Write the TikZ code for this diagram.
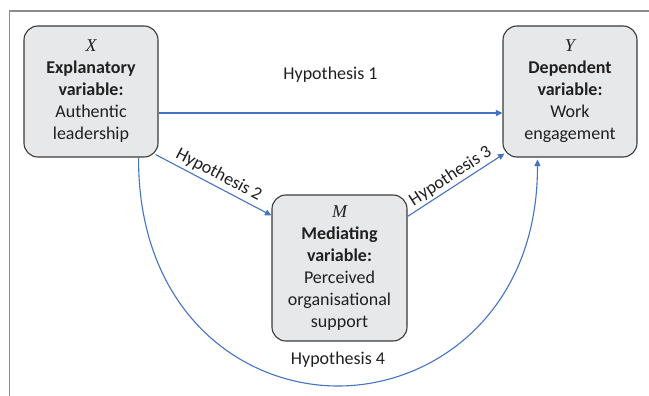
\documentclass[tikz,border=0pt]{standalone}
\usepackage{fontspec}
\setmainfont{Carlito}
\newfontfamily\varfont{Liberation Serif}
\usetikzlibrary{arrows.meta}
\definecolor{boxfill}{HTML}{E7E8EA}
\definecolor{boxline}{HTML}{3A3A3A}
\definecolor{linkc}{HTML}{4472C4}
\definecolor{txt}{HTML}{202020}
\definecolor{framec}{HTML}{8C8C8C}
\begin{document}
\begin{tikzpicture}[x=1pt,y=-1pt,
  varbox/.style={draw=boxline, fill=boxfill, line width=1.1pt, rounded corners=14pt,
    minimum width=134pt, align=center, text=txt, inner sep=0pt,
    font=\fontsize{18}{22}\selectfont},
  link/.style={draw=linkc, line width=1.1pt, -{Triangle[length=6.5pt,width=6pt]}},
  hyp/.style={text=txt, font=\fontsize{18}{22}\selectfont}
]
\useasboundingbox (0,0) rectangle (649,396);
\draw[draw=framec, line width=1.4pt] (649,11) -- (9.5,11) -- (9.5,396);

\node[varbox, minimum height=131pt] (X) at (91,91.5)
  {{\varfont\itshape X}\\ \textbf{Explanatory}\\ \textbf{variable:}\\ Authentic\\ leadership};
\node[varbox, minimum height=131pt] (Y) at (570,91.5)
  {{\varfont\itshape Y}\\ \textbf{Dependent}\\ \textbf{variable:}\\ Work\\ engagement};
\node[varbox, minimum width=135pt, minimum height=146pt] (M) at (339.5,268)
  {{\varfont\itshape M}\\ \textbf{Mediating}\\ \textbf{variable:}\\ Perceived\\ organisational\\ support};

\coordinate (bot) at (338,386);

\draw[link] ([yshift=-21.5pt]X.east) -- node[hyp, above=27pt] (h1) {Hypothesis 1} ([yshift=-21.5pt]Y.west);
\draw[link] ([shift={(-3pt,3pt)}]X.south east) -- node[hyp, sloped, above] (h2) {Hypothesis 2} ([yshift=-21pt]M.north west);
\draw[link] ([yshift=-22pt]M.north east) -- node[hyp, sloped, above, inner sep=2pt] (h3) {Hypothesis 3} ([shift={(2pt,4pt)}]Y.south west);
\draw[link] ([xshift=-20pt]X.south east) .. controls (138,310) and (240,386) .. (bot)
  .. controls (436,386) and (538,310) .. ([shift={(35pt,-2pt)}]Y.south west);
\node[hyp, above=15pt] (h4) at (bot) {Hypothesis 4};
\end{tikzpicture}
\end{document}
